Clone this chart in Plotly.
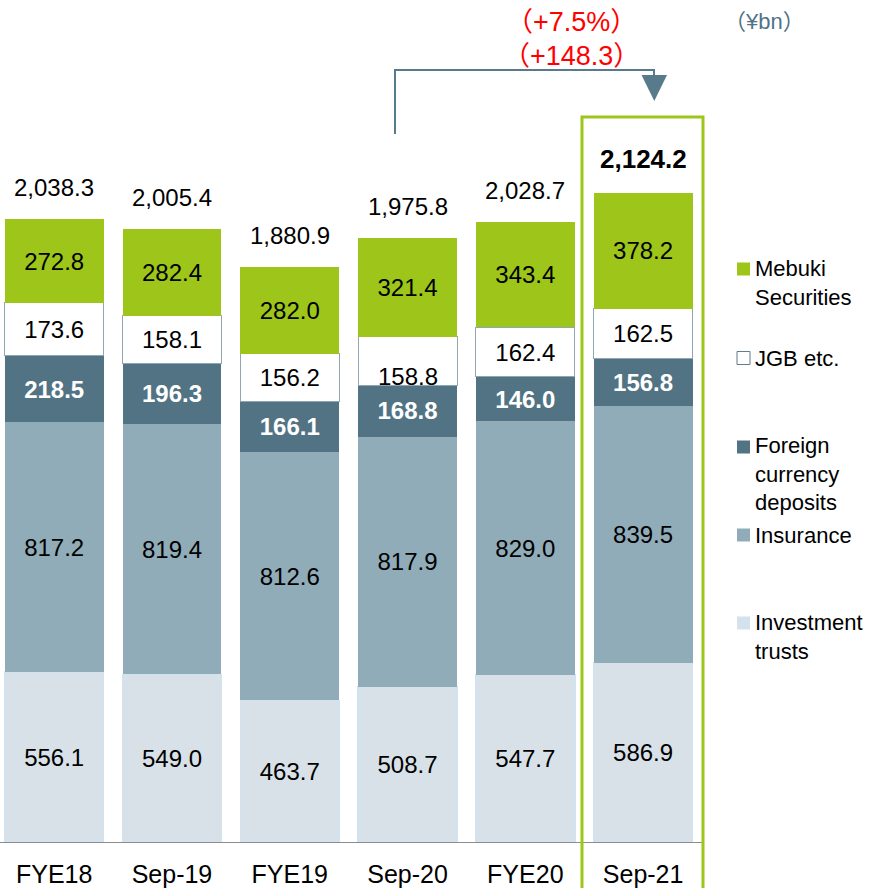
import plotly.graph_objects as go

# ---------------- data ----------------
categories = ["FYE18", "Sep-19", "FYE19", "Sep-20", "FYE20", "Sep-21"]
investment_trusts = [556.1, 549.0, 463.7, 508.7, 547.7, 586.9]
insurance = [817.2, 819.4, 812.6, 817.9, 829.0, 839.5]
foreign_currency = [218.5, 196.3, 166.1, 168.8, 146.0, 156.8]
jgb = [173.6, 158.1, 156.2, 158.8, 162.4, 162.5]
mebuki_securities = [272.8, 282.4, 282.0, 321.4, 343.4, 378.2]
totals = [2038.3, 2005.4, 1880.9, 1975.8, 2028.7, 2124.2]
change_pct = "（+7.5%）"
change_abs = "（+148.3）"
unit_label = "（¥bn）"

# ---------------- style ----------------
W, H = 876, 888
FONT = "Liberation Sans, Arial, sans-serif"
CJK = "Liberation Sans, Noto Sans CJK JP, sans-serif"
C_GREEN = "#9DC51A"
C_DARK = "#527384"
C_INS = "#91ACB9"
C_INV = "#D8E1E7"
C_ARROW = "#587B8B"

def px(x):
    return x / W

def py(y):
    return (H - y) / H

series = [
    ("Investment trusts", investment_trusts, C_INV, dict(color="#CFE3F2", width=1.5), "black", "normal"),
    ("Insurance", insurance, C_INS, dict(width=0), "black", "normal"),
    ("Foreign currency deposits", foreign_currency, C_DARK, dict(width=0), "white", "bold"),
    ("JGB etc.", jgb, "white", dict(color="#8FA7B4", width=1), "black", "normal"),
    ("Mebuki Securities", mebuki_securities, C_GREEN, dict(width=0), "black", "normal"),
]

# the JGB label of Sep-20 sits low in the original (drawn as an annotation below)
low_label_idx = categories.index("Sep-20")

fig = go.Figure()
annotations = []
for name, vals, col, line, tcol, weight in series:
    texts = [f"{v:.1f}" for v in vals]
    if name == "JGB etc.":
        texts[low_label_idx] = ""
    fig.add_trace(go.Bar(
        x=categories, y=vals, name=name,
        marker=dict(color=col, line=line),
        text=texts, texttemplate="%{text}", textposition="inside", insidetextanchor="middle",
        textangle=0, constraintext="none",
        textfont=dict(family=FONT, size=24, color=tcol, weight=weight),
        hoverinfo="skip",
    ))

base_jgb = investment_trusts[low_label_idx] + insurance[low_label_idx] + foreign_currency[low_label_idx]
annotations.append(dict(x=categories[low_label_idx], y=base_jgb, xref="x", yref="y",
                        text=f"{jgb[low_label_idx]:.1f}", showarrow=False, yanchor="middle",
                        yshift=9, font=dict(family=FONT, size=24, color="black")))

# totals
for i, (c, t) in enumerate(zip(categories, totals)):
    last = i == len(categories) - 1
    annotations.append(dict(
        x=c, y=t, xref="x", yref="y", text=f"{t:,.1f}", showarrow=False,
        yanchor="middle", yshift=34 if last else 32,
        font=dict(family=FONT, size=26 if last else 24, color="black",
                  weight="bold" if last else "normal"),
    ))

# change labels
annotations.append(dict(x=px(571), y=py(22), xref="paper", yref="paper", text=change_pct,
                        showarrow=False, xanchor="center", yanchor="middle",
                        font=dict(family=CJK, size=27, color="#FF0000")))
annotations.append(dict(x=px(571), y=py(56), xref="paper", yref="paper", text=change_abs,
                        showarrow=False, xanchor="center", yanchor="middle",
                        font=dict(family=CJK, size=27, color="#FF0000")))
annotations.append(dict(x=px(764), y=py(22), xref="paper", yref="paper", text=unit_label,
                        showarrow=False, xanchor="center", yanchor="middle",
                        font=dict(family=CJK, size=22, color="#4F7285")))

# legend
legend_items = [
    ("Mebuki<br>Securities", C_GREEN, None, 269, 282.5),
    ("JGB etc.", "white", "#5F7D8C", 358, 358),
    ("Foreign<br>currency<br>deposits", C_DARK, None, 447, 474),
    ("Insurance", C_INS, None, 535, 535),
    ("Investment<br>trusts", "#D3E2EC", None, 623, 637),
]
shapes = []
for text, col, edge, sq_y, txt_y in legend_items:
    shapes.append(dict(type="rect", xref="paper", yref="paper",
                       x0=px(737), x1=px(750), y0=py(sq_y - 6.5), y1=py(sq_y + 6.5),
                       fillcolor=col, line=dict(color=edge or col, width=1 if edge else 0)))
    annotations.append(dict(x=px(753), y=py(txt_y), xref="paper", yref="paper", text=text,
                            showarrow=False, xanchor="left", yanchor="middle", align="left",
                            font=dict(family=FONT, size=22, color="black")))

# highlight frame around latest bar
shapes.append(dict(type="rect", xref="paper", yref="paper",
                   x0=px(582), x1=px(703), y0=py(900), y1=py(117),
                   line=dict(color=C_GREEN, width=3), fillcolor="rgba(0,0,0,0)", layer="above"))
# arrow
shapes.append(dict(type="path", xref="paper", yref="paper",
                   path=f"M {px(395)} {py(134)} L {px(395)} {py(70)} L {px(654)} {py(70)} L {px(654)} {py(76)}",
                   line=dict(color=C_ARROW, width=2)))
shapes.append(dict(type="path", xref="paper", yref="paper",
                   path=f"M {px(641.5)} {py(75)} L {px(667)} {py(75)} L {px(654.3)} {py(101)} Z",
                   fillcolor=C_ARROW, line=dict(color=C_ARROW, width=0)))

fig.update_layout(
    width=W, height=H, barmode="stack", bargap=0.16,
    margin=dict(l=0, r=0, t=0, b=0),
    paper_bgcolor="white", plot_bgcolor="white",
    showlegend=False,
    annotations=annotations, shapes=shapes,
    font=dict(family=FONT, color="black"),
    xaxis=dict(domain=[0, px(702)], range=[-0.46, 5.5], showline=True, linecolor="#8C8C8C",
               linewidth=1, ticks="outside", ticklen=10, tickcolor="rgba(0,0,0,0)",
               tickfont=dict(family=FONT, size=25, color="black"), showgrid=False,
               automargin=False, fixedrange=True),
    yaxis=dict(domain=[py(842), 1], range=[0, 842 / 0.3055], visible=False, showgrid=False,
               automargin=False, fixedrange=True),
)

fig.write_html("out.html", config={"displayModeBar": False},
               post_script="document.body.style.margin='0';document.body.style.overflow='hidden';")
